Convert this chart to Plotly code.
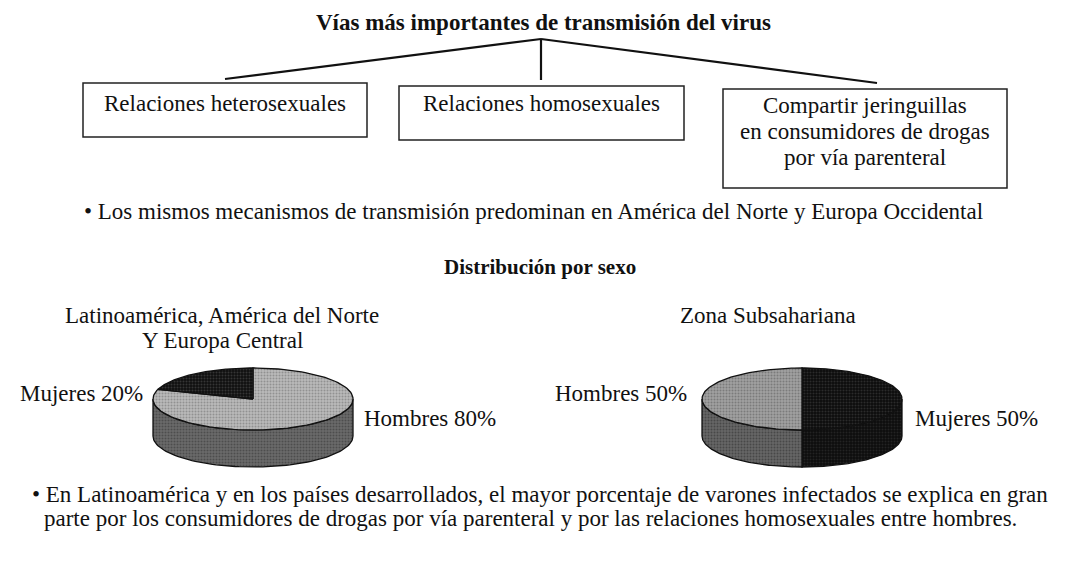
import numpy as np
import plotly.graph_objects as go

W, H = 1069, 561
PAD = 8  # browser body margin

# ---------------- data ----------------
title_main = "Vías más importantes de transmisión del virus"
routes = [
    ["Relaciones heterosexuales"],
    ["Relaciones homosexuales"],
    ["Compartir jeringuillas", "en consumidores de drogas", "por vía parenteral"],
]
note_top = "• Los mismos mecanismos de transmisión predominan en América del Norte y Europa Occidental"
title_sex = "Distribución por sexo"
regions = [["Latinoamérica, América del Norte", "Y Europa Central"], ["Zona Subsahariana"]]
left_labels = ["Hombres", "Mujeres"]
left_values = [80, 20]
right_labels = ["Mujeres", "Hombres"]
right_values = [50, 50]
note_bottom = [
    "• En Latinoamérica y en los países desarrollados, el mayor porcentaje de varones infectados se explica en gran",
    "parte por los consumidores de drogas por vía parenteral y por las relaciones homosexuales entre hombres.",
]

# ---------------- style ----------------
FONT = "Liberation Serif"
FS = 23
LH = 26
top_pat_left = {"Hombres": ("#b9b9b9", "#6a6a6a"), "Mujeres": ("#101010", "#5a5a5a")}
side_pat_left = {"Hombres": ("#6a6a6a", "#303030"), "Mujeres": ("#101010", "#444")}
top_pat_right = {"Hombres": ("#a0a0a0", "#555555"), "Mujeres": ("#0c0c0c", "#4a4a4a")}
side_pat_right = {"Hombres": ("#666666", "#2a2a2a"), "Mujeres": ("#0c0c0c", "#3a3a3a")}

fig = go.Figure()


def ell(cx, cy, rx, ry, th):
    t = np.radians(th)
    return cx + rx * np.sin(t), cy - ry * np.cos(t)


def poly(px, py, pat, solidity):
    bg, fg = pat
    fig.add_trace(go.Scatter(
        x=px, y=py, mode="lines", fill="toself", fillcolor=bg,
        fillpattern=dict(shape=".", bgcolor=bg, fgcolor=fg, size=3, solidity=solidity),
        line=dict(color="#111", width=1.3), hoverinfo="skip", showlegend=False))


def add_pie(cx, cy, rx, ry, depth, labels, values, topp, sidep):
    total = float(sum(values))
    cum = np.concatenate([[0], np.cumsum(values)]) / total * 360.0
    for i, lab in enumerate(labels):
        a, b = max(cum[i], 90), min(cum[i + 1], 270)
        if b <= a:
            continue
        th = np.linspace(a, b, 80)
        xs, ys = ell(cx, cy, rx, ry, th)
        px = np.concatenate([xs, xs[::-1], [xs[0]]])
        py = np.concatenate([ys, ys[::-1] + depth, [ys[0]]])
        poly(px, py, sidep[lab], 0.35)
    for i, lab in enumerate(labels):
        th = np.linspace(cum[i], cum[i + 1], 120)
        xs, ys = ell(cx, cy, rx, ry, th)
        px = np.concatenate([[cx], xs, [cx]])
        py = np.concatenate([[cy], ys, [cy]])
        poly(px, py, topp[lab], 0.35)


add_pie(253, 399, 100, 31, 37, left_labels, left_values, top_pat_left, side_pat_left)
add_pie(802, 399, 100, 31, 37, right_labels, right_values, top_pat_right, side_pat_right)

ann = []


def txt(x, y, s, xa="center", bold=False, size=FS):
    ann.append(dict(x=x, y=y, xref="x", yref="y", text=(f"<b>{s}</b>" if bold else s),
                    showarrow=False, xanchor=xa, yanchor="middle",
                    font=dict(family=FONT, size=size, color="#111")))


txt(543, 22, title_main, bold=True)
box_geo = [(83, 83, 367, 137), (399, 86, 684, 140), (723, 89, 1007, 188)]
box_text_y = [103, 103, 105]
for (x0, y0, x1, y1), lines, ty in zip(box_geo, routes, box_text_y):
    for k, line in enumerate(lines):
        txt((x0 + x1) / 2, ty + k * LH, line)

txt(82, 211, note_top, xa="left")
txt(540, 267, title_sex, bold=True, size=21)
for k, line in enumerate(regions[0]):
    txt(222, 315 + k * 25, line)
for k, line in enumerate(regions[1]):
    txt(768, 315 + k * 25, line)

ldict = dict(zip(left_labels, left_values))
rdict = dict(zip(right_labels, right_values))
txt(145, 393, f"Mujeres {ldict['Mujeres']}%", xa="right")
txt(362, 418, f"Hombres {ldict['Hombres']}%", xa="left")
txt(689, 393, f"Hombres {rdict['Hombres']}%", xa="right")
txt(913, 418, f"Mujeres {rdict['Mujeres']}%", xa="left")
txt(30, 494, note_bottom[0], xa="left")
txt(42, 518, note_bottom[1], xa="left")

shapes = []
for (x0, y0, x1, y1) in box_geo:
    shapes.append(dict(type="rect", xref="x", yref="y", x0=x0, y0=y0, x1=x1, y1=y1,
                       line=dict(color="#222", width=1.5)))
for (x0, y0, x1, y1) in [(541, 39, 225, 79), (541, 39, 541, 80), (541, 39, 877, 83)]:
    shapes.append(dict(type="line", xref="x", yref="y", x0=x0, y0=y0, x1=x1, y1=y1,
                       line=dict(color="#111", width=2.2)))

fig.update_layout(
    width=W - 2 * PAD, height=H - 2 * PAD, margin=dict(l=0, r=0, t=0, b=0),
    paper_bgcolor="white", plot_bgcolor="white",
    xaxis=dict(range=[PAD, W - PAD], visible=False, fixedrange=True),
    yaxis=dict(range=[H - PAD, PAD], visible=False, fixedrange=True),
    annotations=ann, shapes=shapes, showlegend=False,
)
fig.write_html("out.html")
